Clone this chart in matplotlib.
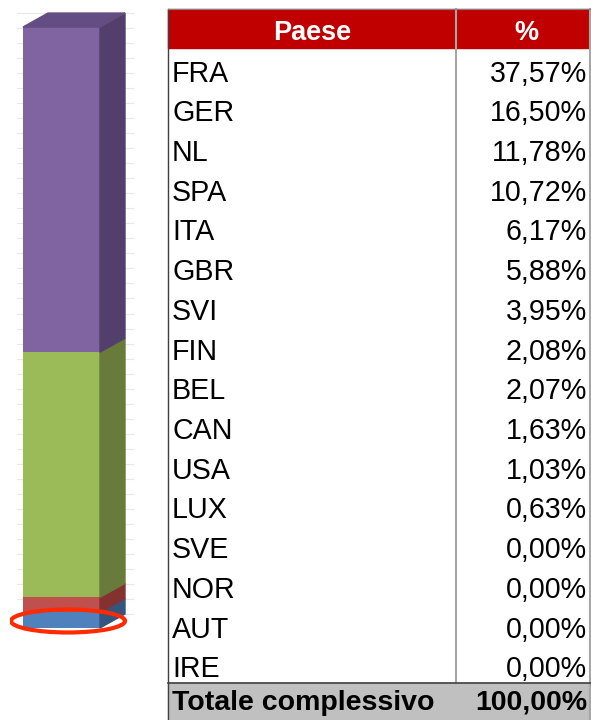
import matplotlib.pyplot as plt
from matplotlib.patches import Polygon, Ellipse, Rectangle

plt.rcParams['font.family'] = ['Liberation Sans', 'DejaVu Sans']

# stacked bar segments (bottom to top), share of total in %
segments = [2.6, 2.5, 40.8, 54.1]
front_colors = ['#4F81BD', '#C0504D', '#9BBB59', '#8064A2']
side_colors = ['#34557E', '#85312F', '#687B3A', '#533F6C']
top_color = '#634D82'

paesi = ['FRA', 'GER', 'NL', 'SPA', 'ITA', 'GBR', 'SVI', 'FIN',
         'BEL', 'CAN', 'USA', 'LUX', 'SVE', 'NOR', 'AUT', 'IRE']
quote = ['37,57%', '16,50%', '11,78%', '10,72%', '6,17%', '5,88%', '3,95%', '2,08%',
         '2,07%', '1,63%', '1,03%', '0,63%', '0,00%', '0,00%', '0,00%', '0,00%']
header = ['Paese', '%']
totale = ['Totale complessivo', '100,00%']

W, H = 591, 720
fig = plt.figure(figsize=(W / 100, H / 100), dpi=100)

# --- 3D-looking stacked column ---
ax = fig.add_axes([10 / W, (H - 640) / H, 130 / W, 640 / H])
ax.set_xlim(-13 / 77, 117 / 77)
ax.set_ylim(-2.0, 104.5)
ax.axis('off')

dx, dy = 25 / 77, 14 / 6.01

# faint back wall gridlines
g = 0.0
while g <= 100:
    ax.plot([-0.08, 1.43], [g + dy, g + dy], color='#e8e8e8', lw=0.8, zorder=0)
    g += 2.5

bottom = 0
for val, fc, sc in zip(segments, front_colors, side_colors):
    ax.bar(0, val, bottom=bottom, width=1, align='edge', color=fc, zorder=2)
    ax.add_patch(Polygon([(1, bottom), (1 + dx, bottom + dy), (1 + dx, bottom + val + dy),
                          (1, bottom + val)], closed=True, color=sc, zorder=2))
    bottom += val

ax.add_patch(Polygon([(0, bottom), (1, bottom), (1 + dx, bottom + dy), (dx, bottom + dy)],
                     closed=True, color=top_color, zorder=2))

# red highlight ellipse around the bottom segment
ax.add_patch(Ellipse((45 / 77, 7 / 6.01), 114 / 77, 23 / 6.01, fill=False,
                     edgecolor='#FF2A00', lw=3.0, zorder=3))

# --- table ---
tx = fig.add_axes([0, 0, 1, 1])
tx.set_xlim(0, W)
tx.set_ylim(H, 0)
tx.axis('off')

x0, xm, x1 = 168, 456, 591
head_top, head_bot = 9, 48
row_h = 39.7
n = len(paesi)
tot_top = head_bot + n * row_h

tx.add_patch(Rectangle((x0, head_top), x1 - x0, head_bot - head_top, color='#C00000', zorder=1))
tx.add_patch(Rectangle((x0, tot_top), x1 - x0, H - tot_top, color='#C0C0C0', zorder=1))

tx.plot([x0, x0], [head_top, H], color='#404040', lw=1.0, zorder=2)
tx.plot([xm, xm], [head_top, tot_top], color='#A6A6A6', lw=1.5, zorder=2)
tx.plot([x1 - 1, x1 - 1], [head_top, H], color='#A6A6A6', lw=1.5, zorder=2)
tx.plot([x0, x1], [tot_top, tot_top], color='#404040', lw=1.2, zorder=3)
tx.plot([x0, x1], [head_top, head_top], color='#808080', lw=0.8, zorder=3)

tx.text((x0 + xm) / 2, 40, header[0], color='white', fontsize=19.5, fontweight='bold',
        ha='center', va='baseline', zorder=4)
tx.text((xm + x1) / 2 + 3, 40, header[1], color='white', fontsize=19.5, fontweight='bold',
        ha='center', va='baseline', zorder=4)

for i, (p, q) in enumerate(zip(paesi, quote)):
    base = head_bot + (i + 1) * row_h - 6
    tx.text(172, base, p, fontsize=20.6, ha='left', va='baseline', zorder=4)
    tx.text(587, base, q, fontsize=20.6, ha='right', va='baseline', zorder=4)

tx.text(172, 710, totale[0], fontsize=20.5, fontweight='bold', ha='left', va='baseline', zorder=4)
tx.text(587, 710, totale[1], fontsize=20.5, fontweight='bold', ha='right', va='baseline', zorder=4)

fig.savefig('out.png', dpi=100)
